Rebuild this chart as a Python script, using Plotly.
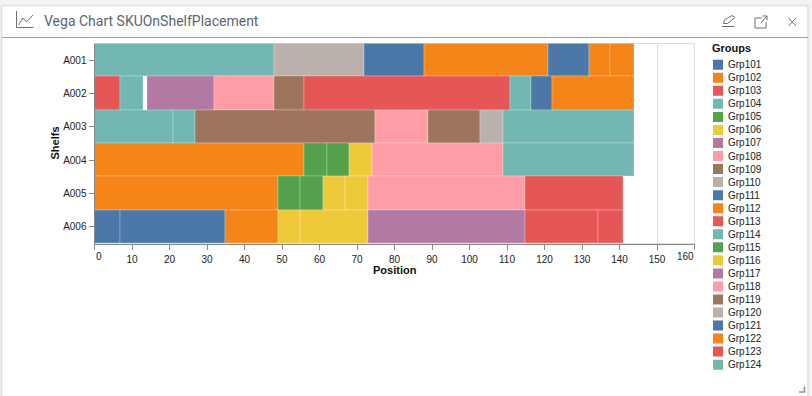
import plotly.graph_objects as go

W, H = 812, 396
SHELFS = ["A001", "A002", "A003", "A004", "A005", "A006"]
GROUPS = [f"Grp{i}" for i in range(101, 125)]
PALETTE = ["#4c78a8", "#f58518", "#e45756", "#72b7b2", "#54a24b",
           "#eeca3b", "#b279a2", "#ff9da6", "#9d755d", "#bab0ac"]

A001_GROUP = ["Grp104", "Grp110", "Grp111", "Grp112", "Grp121", "Grp122", "Grp122"]
A001_START = [0, 48, 72, 88, 121, 132, 137.5]
A001_END = [48, 72, 88, 121, 132, 137.5, 144]

A002_GROUP = ["Grp103", "Grp104", "Grp107", "Grp108", "Grp109", "Grp113", "Grp114", "Grp121", "Grp122"]
A002_START = [0, 7, 14, 32, 48, 56, 111, 116.5, 122]
A002_END = [7, 13, 32, 48, 56, 111, 116.5, 122, 144]

A003_GROUP = ["Grp104", "Grp104", "Grp109", "Grp118", "Grp119", "Grp120", "Grp124"]
A003_START = [0, 21, 27, 75, 89, 103, 109]
A003_END = [21, 27, 75, 89, 103, 109, 144]

A004_GROUP = ["Grp102", "Grp105", "Grp105", "Grp106", "Grp108", "Grp124"]
A004_START = [0, 56, 62, 68, 74, 109]
A004_END = [56, 62, 68, 74, 109, 144]

A005_GROUP = ["Grp102", "Grp115", "Grp115", "Grp116", "Grp116", "Grp118", "Grp123"]
A005_START = [0, 49, 55, 61, 67, 73, 115]
A005_END = [49, 55, 61, 67, 73, 115, 141]

A006_GROUP = ["Grp101", "Grp101", "Grp112", "Grp106", "Grp116", "Grp117", "Grp123", "Grp123"]
A006_START = [0, 7, 35, 49, 55, 73, 115, 134.5]
A006_END = [7, 35, 49, 55, 73, 115, 134.5, 141]

X_TICKS = list(range(0, 161, 10))

ROWS = [(A001_GROUP, A001_START, A001_END), (A002_GROUP, A002_START, A002_END),
        (A003_GROUP, A003_START, A003_END), (A004_GROUP, A004_START, A004_END),
        (A005_GROUP, A005_START, A005_END), (A006_GROUP, A006_START, A006_END)]

GROUP_COLOR = {g: PALETTE[i % len(PALETTE)] for i, g in enumerate(GROUPS)}
FONT = "Liberation Sans, Arial, sans-serif"
AXIS = "#888888"

def px(x): return x / W
def py(y): return 1 - y / H
def path(*pts, close=False):
    s = "M" + " L".join(f"{px(a):.5f},{py(b):.5f}" for a, b in pts)
    return s + (" Z" if close else "")

fig = go.Figure()
for shelf, (grp, start, end) in zip(SHELFS, ROWS):
    fig.add_trace(go.Bar(
        y=[shelf] * len(grp), x=[e - s for s, e in zip(start, end)], base=start,
        orientation="h", width=1, name=shelf, text=grp, hoverinfo="text+x", textposition="none",
        marker=dict(color=[GROUP_COLOR[g] for g in grp],
                    line=dict(color="rgba(255,255,255,0.25)", width=1)),
        showlegend=False))

fig.add_trace(go.Scatter(
    x=[0] * len(GROUPS), y=GROUPS, mode="markers", xaxis="x2", yaxis="y2", showlegend=False,
    marker=dict(symbol="square", size=10, color=[GROUP_COLOR[g] for g in GROUPS], line=dict(width=0)),
    hoverinfo="y"))
fig.add_trace(go.Scatter(
    x=[10] * len(GROUPS), y=GROUPS, mode="text", text=GROUPS, textposition="middle right",
    xaxis="x2", yaxis="y3", showlegend=False, hoverinfo="skip",
    textfont=dict(family=FONT, size=10, color="#222222"), cliponaxis=False))

ICON = "#6f6f6f"
def line(points, color=ICON, width=1.0, close=False, fill=None):
    return dict(type="path", xref="paper", yref="paper", path=path(*points, close=close),
                line=dict(color=color, width=width), fillcolor=fill, layer="above")

shapes = [
    dict(type="rect", xref="paper", yref="paper", x0=px(1.5), x1=px(808), y0=py(H + 5), y1=py(5.5),
         fillcolor="white", line=dict(color="#dfdfdf", width=1.5), layer="below"),
    dict(type="line", xref="paper", yref="paper", x0=px(2), x1=px(808), y0=py(37.5), y1=py(37.5),
         line=dict(color="#a0a0a0", width=1), layer="below"),
    dict(type="rect", xref="paper", yref="paper", x0=px(94.5), x1=px(694.5), y0=py(243.5), y1=py(43.5),
         line=dict(color="#dddddd", width=1), layer="below"),
    line([(16.5, 11), (16.5, 27.5), (33.5, 27.5)]),
    line([(18.5, 25), (23, 18), (26.5, 22), (33, 15)]),
    line([(722, 26.5), (734.5, 26.5)]),
    line([(723.5, 23.5), (724.5, 20), (732, 15.5), (735, 17.5), (727.5, 23.5)], close=True),
    line([(762, 18), (755, 18), (755, 28), (766, 28), (766, 22)]),
    line([(761, 23), (767, 16)]),
    line([(762.5, 16), (767, 16), (767, 20.5)]),
    line([(788.5, 18), (796, 26)]),
    line([(796, 18), (788.5, 26)]),
    line([(799, 392), (804.5, 392), (804.5, 386.5)], color="#909090", width=1.6),
]

annotations = [
    dict(text="Vega Chart SKUOnShelfPlacement", xref="paper", yref="paper", x=px(41.5), y=py(20.5),
         xanchor="left", yanchor="middle", showarrow=False,
         font=dict(family="Roboto, sans-serif", size=14, color="#5c6670")),
    dict(text="<b>Groups</b>", xref="paper", yref="paper", x=px(710), y=py(48),
         xanchor="left", yanchor="middle", showarrow=False, font=dict(family=FONT, size=11, color="#111111")),
    dict(text="0", xref="x", yref="paper", x=0, y=py(256), xanchor="left", yanchor="middle",
         xshift=-1, showarrow=False, font=dict(family=FONT, size=10, color="#222222")),
    dict(text="160", xref="x", yref="paper", x=160, y=py(256), xanchor="right", yanchor="middle",
         xshift=1, showarrow=False, font=dict(family=FONT, size=10, color="#222222")),
    dict(text="<b>Position</b>", xref="paper", yref="paper", x=px(394.5), y=py(270), xanchor="center", yanchor="middle",
         showarrow=False, font=dict(family=FONT, size=11, color="#111111")),
    dict(text="<b>Shelfs</b>", xref="paper", yref="paper", x=px(54), y=py(143.5), xanchor="center", yanchor="middle",
         textangle=-90, showarrow=False, font=dict(family=FONT, size=11, color="#111111")),
]

fig.update_layout(
    width=W, height=H, margin=dict(l=0, r=0, t=0, b=0),
    paper_bgcolor="#f3f3f3", plot_bgcolor="rgba(0,0,0,0)",
    barmode="overlay", bargap=0, showlegend=False,
    font=dict(family=FONT, size=10, color="#222222"),
    shapes=shapes, annotations=annotations,
    xaxis=dict(domain=[px(94.5), px(694.5)], range=[0, 160], tickmode="array", tickvals=X_TICKS,
               ticktext=["" if t in (0, 160) else str(t) for t in X_TICKS],
               showgrid=True, gridcolor="#dddddd", gridwidth=1, zeroline=False,
               showline=True, linecolor=AXIS, linewidth=1, ticks="outside", ticklen=5,
               tickcolor=AXIS, tickwidth=1, anchor="y", tickangle=0, ticklabelstandoff=1,
               tickfont=dict(family=FONT, size=10, color="#222222")),
    yaxis=dict(domain=[py(243.5), py(43.5)], type="category", categoryorder="array", categoryarray=SHELFS,
               range=[5.5, -0.5], showgrid=False, zeroline=False, showline=True, linecolor=AXIS, linewidth=1,
               ticks="outside", ticklen=5, tickcolor=AXIS, tickwidth=1, anchor="x",
               tickfont=dict(family=FONT, size=10, color="#222222")),
    xaxis2=dict(domain=[px(700), px(800)], range=[-18, 82], visible=False, anchor="y2"),
    yaxis2=dict(domain=[py(377.7), py(51.7)], type="category", categoryorder="array", categoryarray=GROUPS,
                range=[24, -1], visible=False, anchor="x2"),
    yaxis3=dict(domain=[py(378.7), py(52.7)], type="category", categoryorder="array", categoryarray=GROUPS,
                range=[24, -1], visible=False, anchor="x2"),
)

fig.write_html("out.html", config={"displayModeBar": False},
               post_script="document.body.style.margin='0';document.body.style.overflow='hidden';")
